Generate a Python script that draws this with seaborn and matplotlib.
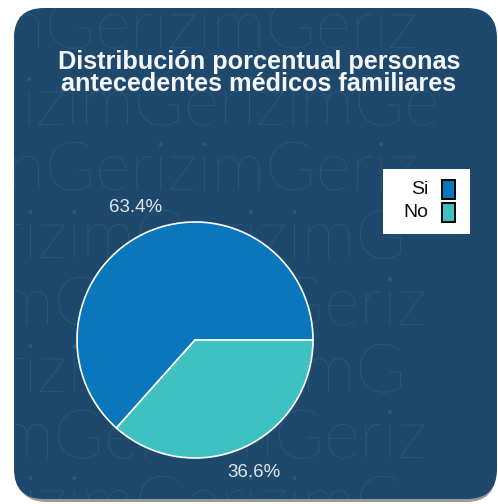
import matplotlib
matplotlib.use("Agg")
import matplotlib.pyplot as plt
import seaborn as sns
from matplotlib.patches import FancyBboxPatch, Rectangle, PathPatch
from matplotlib.textpath import TextPath
from matplotlib.font_manager import FontProperties
from matplotlib.transforms import IdentityTransform

categories = ["Si", "No"]
values = [63.4, 36.6]
title = "Distribución porcentual personas\nantecedentes médicos familiares"

sns.set_theme(style="white")
plt.rcParams['font.family'] = ['Liberation Sans', 'DejaVu Sans']

palette = ["#0a76bb", "#40c1c1"]
bg = "#1f496c"
wm = "#2b5c82"

W, H = 498, 504
fig = plt.figure(figsize=(W / 100, H / 100), dpi=100)
fig.patch.set_facecolor("white")

def fx(px):
    return px / W

def fy(py):
    return 1 - py / H

# shadow + rounded background
shadow = FancyBboxPatch((fx(17), fy(502)), fx(479), (502 - 12) / H,
                        boxstyle="round,pad=0,rounding_size=0.06",
                        transform=fig.transFigure, facecolor="#555555",
                        edgecolor="none", alpha=0.6, zorder=0)
fig.patches.append(shadow)
bgbox = FancyBboxPatch((fx(14), fy(499)), fx(483), (499 - 8) / H,
                       boxstyle="round,pad=0,rounding_size=0.06",
                       transform=fig.transFigure, facecolor=bg,
                       edgecolor="none", zorder=1)
fig.patches.append(bgbox)

# watermark (as outlined paths so it can be clipped to the rounded box)
wm_font = FontProperties(family=["Lato", "Roboto", "DejaVu Sans"], weight="light")
rows = [(48, 8, "nGerizimGeriz"), (125, 22, "izimGerizimGe"), (190, 8, "nGerizimGeriz"),
        (258, 0, "rizimGerizimG"), (325, 0, "mGerizimGeriz"), (392, 0, "rizimGerizimG"),
        (458, 0, "mGerizimGeriz"), (524, 0, "rizimGerizimG")]
for yb, xs, txt in rows:
    tp = TextPath((xs, H - yb), txt, size=68, prop=wm_font)
    p = PathPatch(tp, transform=IdentityTransform(), facecolor=wm, edgecolor="none", zorder=2)
    fig.add_artist(p)
    p.set_clip_path(bgbox)

fig.text(fx(259), fy(73), title, ha="center", va="center", fontsize=18.2,
         fontweight="bold", color="#f4f6f8", linespacing=0.9, zorder=5)

# pie
cx, cy, r = 195, 340, 118
ax = fig.add_axes([fx(cx - r), fy(cy + r), 2 * r / W, 2 * r / H])
ax.set_zorder(4)
ax.patch.set_alpha(0)
wedges, texts, autotexts = ax.pie(values, colors=palette, startangle=0, counterclock=True,
                                  autopct="%1.1f%%", pctdistance=1.23,
                                  wedgeprops=dict(edgecolor="white", linewidth=1.2),
                                  textprops=dict(color="#dfe4ea", fontsize=13.5))
ax.set_xlim(-1, 1)
ax.set_ylim(-1, 1)
for t in autotexts:
    t.set_clip_on(False)
ax.axis("off")

# legend (labels right-aligned, keys on the right)
fig.add_artist(Rectangle((fx(383), fy(234)), fx(87), 65 / H, transform=fig.transFigure,
                         facecolor="white", edgecolor="none", zorder=6))
for i, (lab, col) in enumerate(zip(categories, palette)):
    yc = 190 + i * 22
    fig.text(fx(428), fy(yc), lab, ha="right", va="center", fontsize=14,
             color="#111111", zorder=7)
    fig.add_artist(Rectangle((fx(442), fy(yc + 9.5)), fx(13), 19 / H, transform=fig.transFigure,
                             facecolor=col, edgecolor="black", linewidth=1.4, zorder=7))

fig.savefig("out.png", dpi=100, facecolor="white")
